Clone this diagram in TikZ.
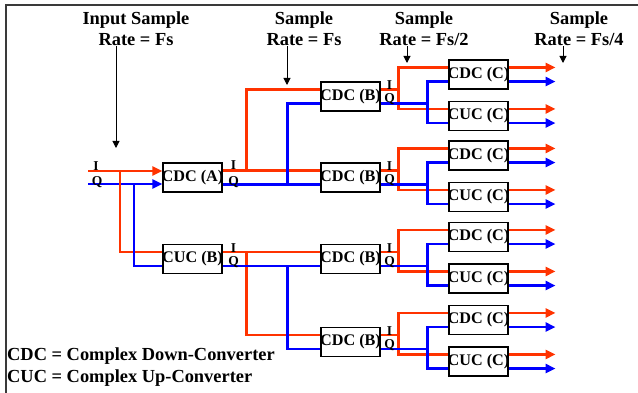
\documentclass[tikz,border=0pt]{standalone}
\usepackage{fontspec}
\setmainfont{Liberation Serif}
\usepackage{xcolor}
\definecolor{ichan}{HTML}{FF3300}
\definecolor{qchan}{HTML}{0000FF}
\definecolor{edgegray}{HTML}{3A3A3A}
\usepackage{tikz}
\usetikzlibrary{positioning,arrows.meta,calc}

\begin{document}
\begin{tikzpicture}[
  x=1pt, y=-1pt,
  font=\bfseries,
  conv/.style={draw=black, line width=1.1pt, fill=white, inner xsep=-1.3pt,
               inner ysep=0pt, minimum width=59pt, minimum height=29pt,
               font=\bfseries\fontsize{16.2}{16}\selectfont},
  iwire/.style={draw=ichan, line width=2.6pt},
  qwire/.style={draw=qchan, line width=2.6pt},
  tip/.style={-{Triangle[length=10pt,width=9pt]}},
  iq/.style={inner sep=0pt, font=\bfseries\fontsize{13.5}{13.5}\selectfont},
  rate/.style={align=center, inner sep=0pt,
               font=\bfseries\fontsize{18.4}{21}\selectfont},
  ratearrow/.style={draw=black, line width=1pt, -{Triangle[length=7pt,width=7pt]}},
  legend/.style={anchor=west, inner sep=0pt,
                 font=\bfseries\fontsize{18.4}{20}\selectfont}
]
  \useasboundingbox (0,0) rectangle (638,393);
  \draw[edgegray, line width=1.6pt] (6,393) -- (6,5) -- (638,5);

  % sample rate headings
  \node[rate] (rateIn) at (136,29) {Input Sample\\Rate = Fs};
  \node[rate] (rateA)  at (304,29) {Sample\\Rate = Fs};
  \node[rate] (rateB)  at (424,29) {Sample\\Rate = Fs/2};
  \node[rate] (rateC)  at (579,29) {Sample\\Rate = Fs/4};
  \coordinate (fsIn) at (116,148);
  \coordinate (fsA)  at (287,85);
  \coordinate (fsB)  at (407,63);
  \coordinate (fsC)  at (563,63);
  \draw[ratearrow] (fsIn |- rateIn.south) -- (fsIn);
  \draw[ratearrow] (fsA |- rateA.south) -- (fsA);
  \draw[ratearrow] (fsB |- rateB.south) -- (fsB);
  \draw[ratearrow] (fsC |- rateC.south) -- (fsC);

  % first stage
  \node[conv] (cdcA) at (192.5,177.5) {CDC (A)};
  \node[conv] (cucB) at (192.5,259)   {CUC (B)};
  \coordinate (inI) at (88,171);
  \coordinate (inQ) at (88,184);
  \draw[iwire,tip] (inI) -- (inI -| cdcA.west);
  \draw[qwire,tip] (inQ) -- (inQ -| cdcA.west);
  \draw[iwire] ([xshift=32pt]inI) |- ([yshift=-8pt]cucB.north west);
  \draw[qwire] ([xshift=46pt]inQ) |- ([yshift=8pt]cucB.south west);

  % second and third stages
  \foreach \k/\y in {1/96.5,2/177.5,3/259,4/342}{
    \node[conv] (cdcB\k) at (350.5,\y)    {CDC (B)};
    \node[conv] (cdcC\k) at (478.5,\y-22) {CDC (C)};
    \node[conv] (cucC\k) at (478.5,\y+19.5) {CUC (C)};
    \draw[iwire] ([yshift=-8pt]cdcB\k.north east) -- ++(18,0);
    \draw[iwire] ([yshift=-8pt]cdcC\k.north west) -| ([xshift=18pt,yshift=-8pt]cdcB\k.north east)
                 |- ([yshift=-8pt]cucC\k.north west);
    \draw[qwire] ([yshift=8pt]cdcB\k.south east) -- ++(47,0);
    \draw[qwire] ([yshift=8pt]cdcC\k.south west) -| ([xshift=47pt,yshift=8pt]cdcB\k.south east)
                 |- ([yshift=8pt]cucC\k.south west);
    \draw[iwire,tip] ([yshift=-8pt]cdcC\k.north east) -- ++(47,0);
    \draw[qwire,tip] ([yshift=8pt]cdcC\k.south east) -- ++(47,0);
    \draw[iwire,tip] ([yshift=-8pt]cucC\k.north east) -- ++(47,0);
    \draw[qwire,tip] ([yshift=8pt]cucC\k.south east) -- ++(47,0);
    \node[iq] (iB\k) at ([xshift=9pt,yshift=-4pt]cdcB\k.north east) {I};
    \node[iq] (qB\k) at ([xshift=9pt,yshift=12pt]cdcB\k.south east) {Q};
  }

  \draw[iwire] ([yshift=-8pt]cdcA.north east) -- ([yshift=-8pt]cdcB2.north west);
  \draw[iwire] ([xshift=24pt,yshift=-8pt]cdcA.north east) |- ([yshift=-8pt]cdcB1.north west);
  \draw[qwire] ([yshift=8pt]cdcA.south east) -- ([yshift=8pt]cdcB2.south west);
  \draw[qwire] ([xshift=65pt,yshift=8pt]cdcA.south east) |- ([yshift=8pt]cdcB1.south west);
  \draw[iwire] ([yshift=-8pt]cucB.north east) -- ([yshift=-8pt]cdcB3.north west);
  \draw[iwire] ([xshift=24pt,yshift=-8pt]cucB.north east) |- ([yshift=-8pt]cdcB4.north west);
  \draw[qwire] ([yshift=8pt]cucB.south east) -- ([yshift=8pt]cdcB3.south west);
  \draw[qwire] ([xshift=65pt,yshift=8pt]cucB.south east) |- ([yshift=8pt]cdcB4.south west);

  \node[iq] (inIlab) at ([xshift=8pt,yshift=5pt]inI) {I};
  \node[iq] (inQlab) at ([xshift=9pt,yshift=2pt]inQ) {Q};
  \node[iq] (iA) at ([xshift=11pt,yshift=-3pt]cdcA.north east) {I};
  \node[iq] (qA) at ([xshift=11pt,yshift=10pt]cdcA.south east) {Q};
  \node[iq] (iBu) at ([xshift=11pt,yshift=-4pt]cucB.north east) {I};
  \node[iq] (qBu) at ([xshift=11pt,yshift=12pt]cucB.south east) {Q};

  \node[legend] (cdcKey) at (7,356) {CDC = Complex Down-Converter};
  \node[legend] (cucKey) at (7,378) {CUC = Complex Up-Converter};
\end{tikzpicture}
\end{document}
